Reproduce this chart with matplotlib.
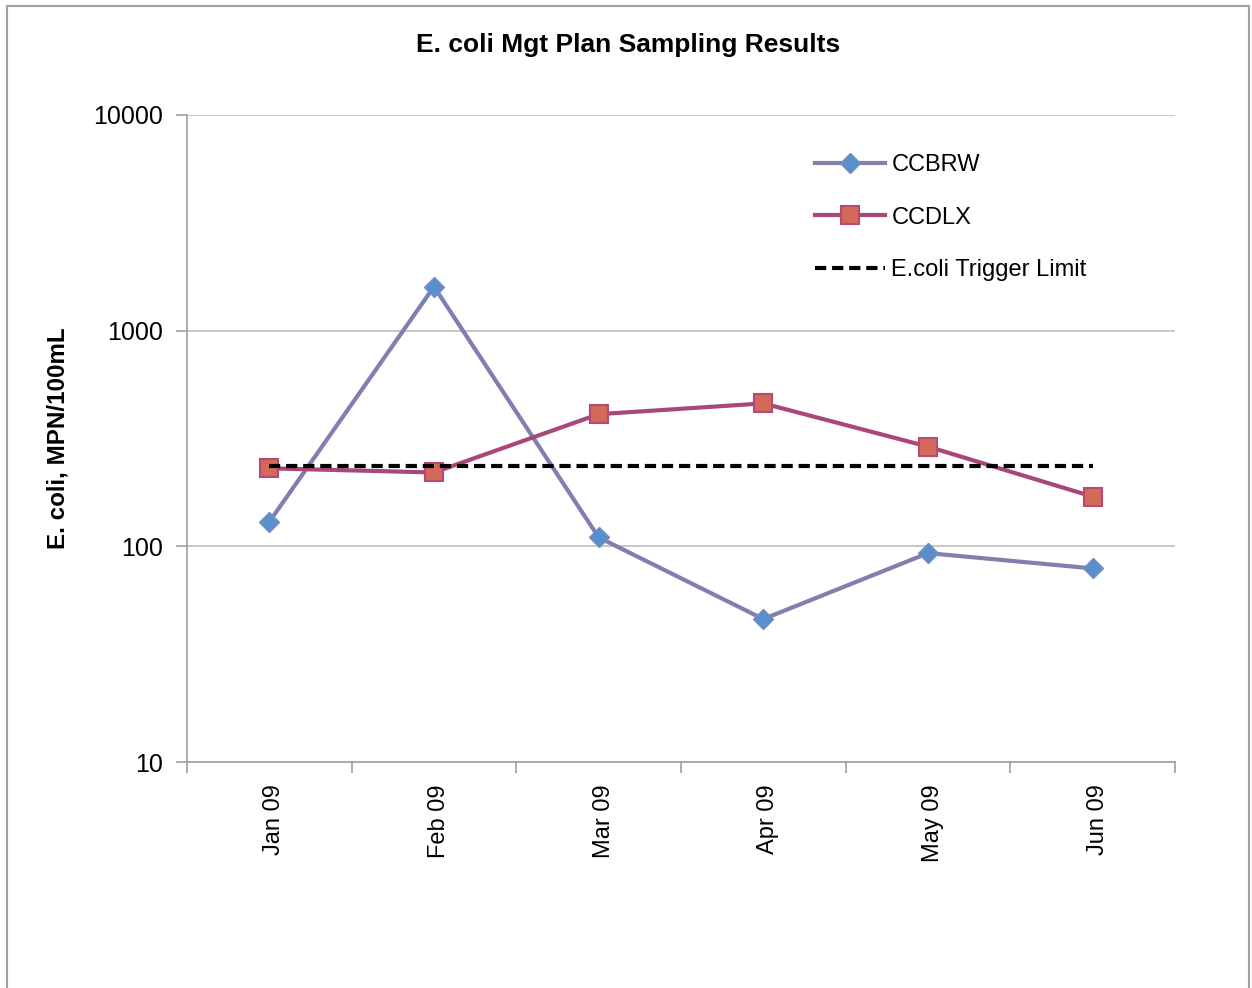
import matplotlib
matplotlib.use('Agg')
import matplotlib.pyplot as plt
from matplotlib.patches import Rectangle
from matplotlib.transforms import ScaledTranslation

plt.rcParams['font.family'] = ['Liberation Sans', 'DejaVu Sans']

months = ['Jan 09', 'Feb 09', 'Mar 09', 'Apr 09', 'May 09', 'Jun 09']
ccbrw = [130, 1600, 110, 46, 93, 79]
ccdlx = [230, 220, 410, 460, 290, 170]
trigger = [235, 235, 235, 235, 235, 235]

fig = plt.figure(figsize=(12.52, 9.88), dpi=100)
ax = fig.add_axes([187/1252, 1 - 762/988, (1175-187)/1252, (762-115)/988])

x = list(range(len(months)))

ax.plot(x, ccbrw, color='#7f7fb0', lw=3, marker='D', markersize=10.5,
        markerfacecolor='#5b8fcc', markeredgecolor='#6f8fc0', markeredgewidth=1,
        label='CCBRW', zorder=4)
ax.plot(x, ccdlx, color='#a8487a', lw=3, marker='s', markersize=13,
        markerfacecolor='#d4695a', markeredgecolor='#b44a78', markeredgewidth=1.5,
        label='CCDLX', zorder=5)
ax.plot(x, trigger, color='black', lw=3, ls=(0, (2.7, 1.4)),
        label='E.coli Trigger Limit', zorder=6)

ax.set_yscale('log')
ax.set_ylim(10, 10000)
ax.set_yticks([10, 100, 1000, 10000])
ax.set_yticklabels(['10', '100', '1000', '10000'])
ax.minorticks_off()
ax.grid(axis='y', color='#bdbdbd', lw=1.2)
ax.set_axisbelow(True)

ax.set_xlim(-0.5, len(months) - 0.5)
ax.set_xticks([i - 0.5 for i in range(len(months) + 1)])
ax.set_xticklabels([])
ax.set_xticks(x, minor=True)
ax.set_xticklabels(months, minor=True, rotation=90, fontsize=17)
ax.tick_params(axis='x', which='minor', length=0, pad=16)
ax.tick_params(axis='x', which='major', length=8, width=1.2, color='#a0a0a0')
ax.tick_params(axis='y', length=8, width=1.2, color='#a0a0a0', labelsize=18, pad=9)

# nudge month labels a little to the right
shift = ScaledTranslation(5/100, 0, fig.dpi_scale_trans)
for lab in ax.get_xticklabels(minor=True):
    lab.set_transform(lab.get_transform() + shift)

for s in ['top', 'right']:
    ax.spines[s].set_visible(False)
for s in ['left', 'bottom']:
    ax.spines[s].set_color('#a0a0a0')
    ax.spines[s].set_linewidth(1.2)

ax.set_ylabel('E. coli, MPN/100mL', fontsize=17.4, fontweight='bold', labelpad=17)

ax.legend(loc='upper left', bbox_to_anchor=(0.636, 0.940), frameon=False,
          fontsize=17, borderpad=0, borderaxespad=0, labelspacing=1.3,
          handlelength=2.97, handletextpad=0.25)

fig.text(628/1252, 1 - 45/988, 'E. coli Mgt Plan Sampling Results',
         ha='center', va='center', fontsize=19, fontweight='bold')

fig.patches.append(Rectangle((7/1252, -0.02), 1242/1252, 1 - 6/988 + 0.02,
                             transform=fig.transFigure, fill=False,
                             edgecolor='#a0a0a0', lw=1.5))

fig.savefig('out.png', dpi=100, facecolor='white')
